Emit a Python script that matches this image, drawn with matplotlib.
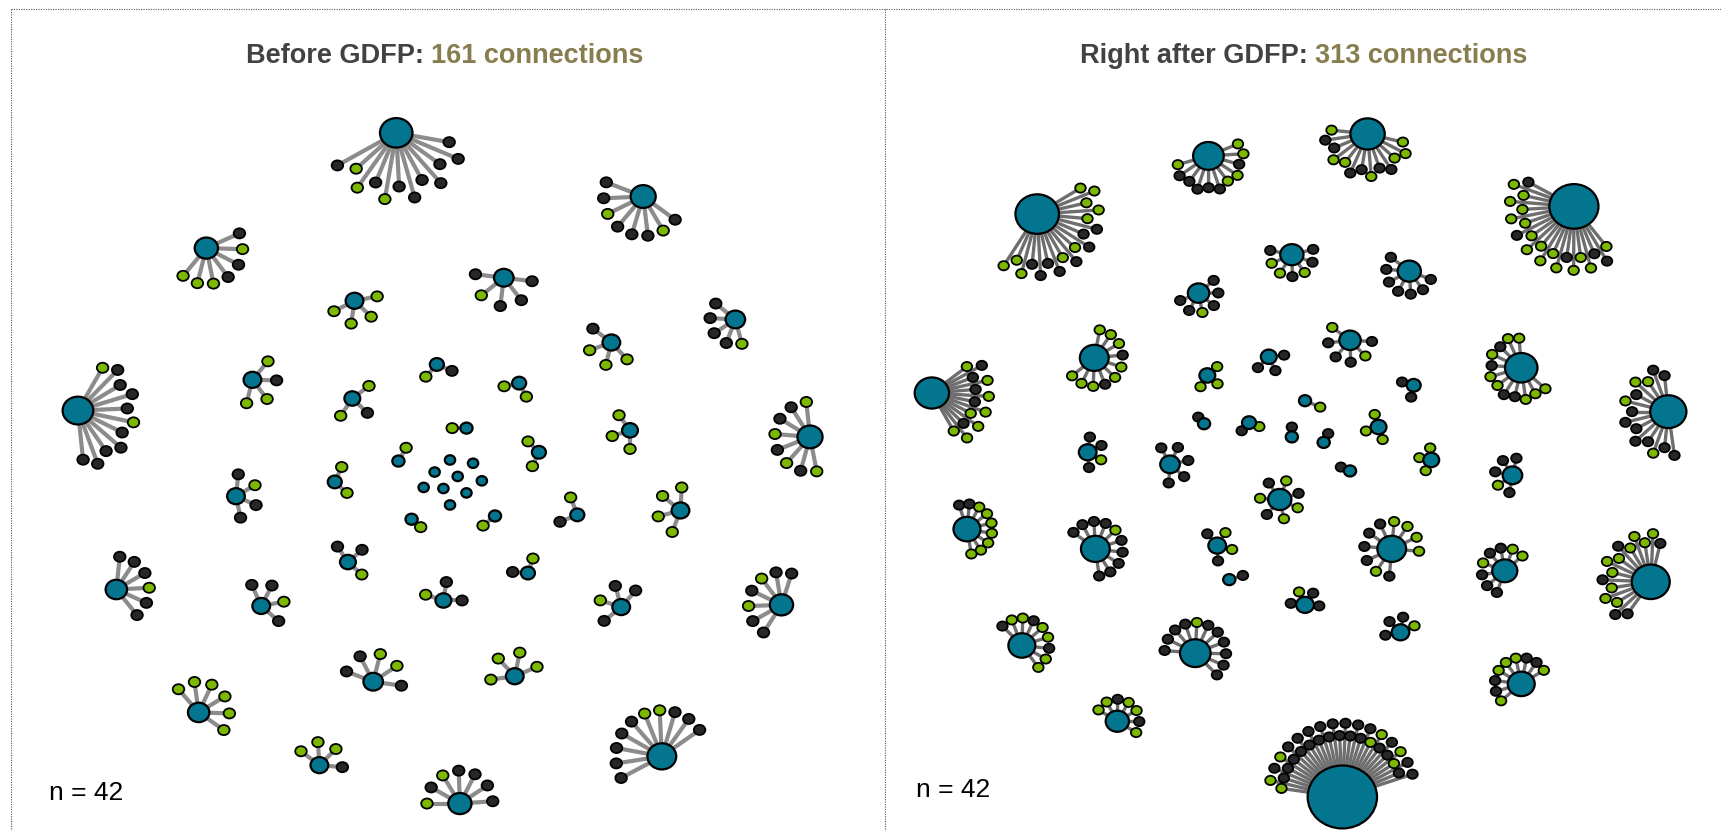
import numpy as np
import matplotlib
matplotlib.use('Agg')
import matplotlib.pyplot as plt
from matplotlib.patches import Ellipse
from matplotlib.collections import LineCollection

# layout units: full figure is 1568 x 757 (y grows downwards)
W, H = 1568, 757

TITLES = [("Before GDFP:", "161 connections"), ("Right after GDFP:", "313 connections")]
TITLE_X = [405, 1188]
N_LABEL = "n = 42"

# ego networks before GDFP: hub position, leaf colours (g = green, k = black),
# arm length and the arc (degrees) the leaves are spread over
LEFT_X = [361, 586, 188, 459, 323, 670, 557, 71, 230, 398, 321, 473, 574, 738, 215, 305, 363, 425,
          491, 375, 451, 526, 620, 317, 481, 106, 238, 404, 566, 712, 340, 469, 181, 291, 419, 603,
          410, 431, 396, 417, 439, 386, 404, 425, 410]
LEFT_Y = [121, 179, 226, 253, 274, 291, 312, 374, 346, 332, 363, 349, 392, 398, 452, 439, 420, 390,
          412, 473, 470, 469, 465, 512, 522, 537, 552, 547, 553, 551, 621, 616, 649, 697, 732, 689,
          419, 422, 430, 434, 438, 444, 445, 449, 460]
LEFT_LEAVES = ["kkkkkkkgkggk", "kkgkkkgk", "kgkkggg", "kgkkk", "gggg", "kkkkg", "kggg", "gkkkkgkkkkk",
               "gkgg", "kg", "gkg", "gg", "ggg", "gkkgkgkg", "kgkk", "gg", "g", "g",
               "gg", "g", "g", "gk", "gggg", "kkg", "gk", "kkkgkk", "kkgk", "kkg", "kkgk", "kkgkgkk",
               "kggkk", "gggg", "gggggg", "kggg", "kkkkgkg", "kkkggkkkkk",
               "", "", "", "", "", "", "", "", ""]
LEFT_ARM = [49, 36, 33, 26, 21, 23, 21, 45, 22, 15, 19, 14, 17, 32, 20, 15, 14, 13,
            14, 11, 14, 17, 21, 17, 14, 30, 21, 17, 20, 30, 26, 22, 28, 21, 30, 42,
            0, 0, 0, 0, 0, 0, 0, 0, 0]
LEFT_ARC_FROM = [-10, 159, 24, 173, 11, 141, 143, 60, 50, -23, 37, 192, 126, 96, 84, 65, 60, 180,
                 135, -41, 219, 111, 87, 124, 71, 84, 114, 0, 49, 72, -8, 23, -35, -5, 4, 35,
                 0, 0, 0, 0, 0, 0, 0, 0, 0]
LEFT_ARC_TO = [-151, 324, -130, 353, -153, 285, 313, -84, -104, -132, -124, 298, 270, 281, -78, -42, 60, 180,
               245, -41, 219, 202, 249, -42, 176, -51, -41, 162, 219, 237, 159, 188, 131, 143, 180, 208,
               0, 0, 0, 0, 0, 0, 0, 0, 0]
LEFT_STAGGER = [0.25, 0, 0, 0, 0, 0, 0, 0.15] + [0.0] * 37

# ego networks right after GDFP
RIGHT_X = [945, 1101, 1246, 1434, 1177, 1092, 1284, 997, 1230, 1386, 1520, 849, 1100, 1156, 1189,
           1256, 1288, 1206, 1177, 1230, 1304, 1378, 1268, 1371, 1504, 1276, 1386, 1223,
           991, 1066, 1097, 1138, 1166, 1109, 1120, 1189, 881, 998, 931, 1089, 1018]
RIGHT_Y = [195, 142, 122, 188, 232, 267, 247, 326, 310, 335, 375, 358, 342, 325, 365,
           389, 351, 403, 398, 429, 419, 433, 500, 520, 530, 576, 623, 726,
           412, 423, 386, 385, 455, 497, 528, 551, 482, 500, 588, 595, 657]
RIGHT_LEAVES = ["gggggkkkgkgkkkkggg", "ggkggkkkkkg", "gggkkgkkggkkg", "kggggggkggggggkgggkkg",
                "kggkgkk", "kkkgkk", "kkkkkkk", "gggkggkggg", "gkkkgk", "ggkgkggkkggg",
                "kkggkgkkkkkgkk", "gkkgkgkgggkgg", "ggg", "kkk", "g",
                "ggg", "kk", "k", "k", "k", "ggg", "kkkgk", "ggggkkkkgk", "ggkkgkkk",
                "kggggkgggkgggkk", "gkkk", "gkkgggkkg",
                "ggkkkgkkkkkkkkkkkkkkkkggkkkggkkk",
                "kkgk", "kkkkk", "k", "gk", "kgkgkgg", "kggk", "k", "kkgk",
                "kkggggggg", "kkkkgkkkkk", "kggkggkgg", "kkkkgkkkkkk", "ggkggkg"]
RIGHT_ARM = [46, 29, 33, 47, 20, 18, 21, 26, 20, 27, 33, 40, 12, 14, 15,
             12, 11, 9, 9, 9, 11, 16, 25, 21, 36, 14, 24, 56,
             14, 17, 8, 10, 18, 14, 13, 13, 23, 25, 25, 28, 20]
RIGHT_ARC_FROM = [31, 22, -13, 152, 169, 40, 143, 79, 144, 94, 96, 37, 42, 6, -23,
                  107, 164, 63, 90, 157, 95, 77, -5, 40, 76, 25, 31, 172,
                  82, 118, 131, -21, 18, 130, 17, -4, 108, 143, 135, 175, 149]
RIGHT_ARC_TO = [-123, -164, -186, 309, 374, -158, 339, -141, 357, 319, 278, -60, -121, -135, -23,
                288, 258, 63, 90, 157, 243, 260, 265, 250, 234, 191, 220, 18,
                -85, -94, 131, -132, 335, -87, 17, 174, -80, -82, -53, -45, -31]
RIGHT_STAGGER = [0.22, 0.1, 0.18, 0.24, 0, 0, 0, 0, 0, 0.08, 0.22, 0.3, 0, 0, 0,
                 0, 0, 0, 0, 0, 0, 0, 0, 0, 0.22, 0, 0, 0.2,
                 0, 0, 0, 0, 0, 0, 0, 0, 0, 0, 0, 0, 0]

HUB_COLOR = '#04758f'
LEAF_COLORS = {'g': '#7db800', 'k': '#272727'}
TITLE_DARK = '#424242'
TITLE_OLIVE = '#877d4e'


def draw_panel(ax, xs, ys, leaves, arms, a_from, a_to, stagger, edge_color, edge_lw, leaf_w, leaf_h):
    segs = []
    leaf_pts = []
    for i in range(len(xs)):
        n = len(leaves[i])
        if n == 0:
            continue
        angs = np.linspace(a_from[i], a_to[i], n) if n > 1 else np.array([a_from[i]])
        for j, (a, c) in enumerate(zip(np.radians(angs), leaves[i])):
            d = arms[i] * (1 + stagger[i] * (j % 2))
            lx = xs[i] + d * np.cos(a)
            ly = ys[i] - d * np.sin(a)
            segs.append([(xs[i], ys[i]), (lx, ly)])
            leaf_pts.append((lx, ly, c))
    ax.add_collection(LineCollection(segs, colors=edge_color, linewidths=edge_lw, zorder=1,
                                     capstyle='butt'))
    for lx, ly, c in leaf_pts:
        ax.add_patch(Ellipse((lx, ly), leaf_w, leaf_h, facecolor=LEAF_COLORS[c],
                             edgecolor='black', lw=1.3, zorder=2))
    for i in range(len(xs)):
        r = 4.5 + 0.8 * len(leaves[i])
        ax.add_patch(Ellipse((xs[i], ys[i]), 2 * r * 1.05, 2 * r / 1.05, facecolor=HUB_COLOR,
                             edgecolor='black', lw=1.6, zorder=3))


fig = plt.figure(figsize=(17.21, 8.31), dpi=100)
ax = fig.add_axes([0, 0, 1, 1])
ax.set_xlim(0, W)
ax.set_ylim(H, 0)
ax.axis('off')

# dotted frame
dot = dict(color='#555555', lw=0.8, linestyle=(0, (1, 1.2)))
ax.plot([10, W], [8, 8], **dot)
ax.plot([10, 10], [8, H], **dot)
ax.plot([806, 806], [8, H], **dot)

draw_panel(ax, LEFT_X, LEFT_Y, LEFT_LEAVES, LEFT_ARM, LEFT_ARC_FROM, LEFT_ARC_TO, LEFT_STAGGER,
           '#8c8c8c', 3.0, 10.5, 9.2)
draw_panel(ax, RIGHT_X, RIGHT_Y, RIGHT_LEAVES, RIGHT_ARM, RIGHT_ARC_FROM, RIGHT_ARC_TO, RIGHT_STAGGER,
           '#6e6e6e', 2.4, 9.6, 8.4)

# two-tone titles, centred
fam = ['Liberation Sans', 'DejaVu Sans']
renderer = fig.canvas.get_renderer()
for (a, b), cx in zip(TITLES, TITLE_X):
    t1 = ax.text(cx, 57, a, color=TITLE_DARK, fontsize=19.5, fontweight='bold', family=fam,
                 ha='left', va='baseline')
    t2 = ax.annotate(b, xy=(1, 0), xycoords=t1, xytext=(5, 0), textcoords='offset points',
                     color=TITLE_OLIVE, fontsize=19.5, fontweight='bold', family=fam,
                     ha='left', va='bottom')
    e1 = t1.get_window_extent(renderer)
    e2 = t2.get_window_extent(renderer)
    total_px = e2.x1 - e1.x0
    t1.set_x(cx - total_px / 2 * W / fig.bbox.width)

ax.text(45, 729, N_LABEL, fontsize=19, family=fam, ha='left', va='baseline')
ax.text(835, 726, N_LABEL, fontsize=19, family=fam, ha='left', va='baseline')

fig.savefig('out.png', dpi=100)
